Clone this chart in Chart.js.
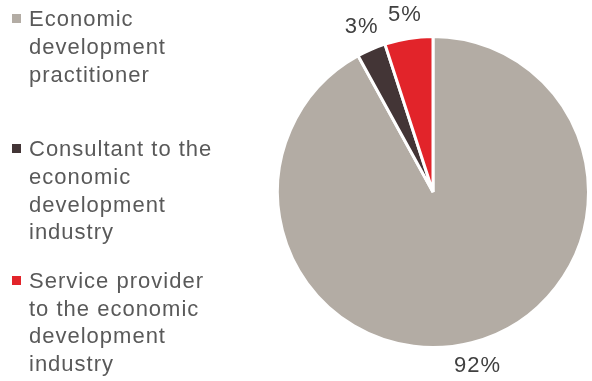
<!DOCTYPE html>
<html>
<head>
<meta charset="utf-8">
<script src="https://cdn.jsdelivr.net/npm/chart.js@4.4.1/dist/chart.umd.min.js"></script>
<style>
  html, body { margin: 0; padding: 0; background: #fff; }
  #wrap { position: relative; width: 592px; height: 381px; overflow: hidden; }
  #chart { position: absolute; left: 0; top: 0; }
  .item { position: absolute; left: 29px; font-family: "Liberation Sans", Arial, sans-serif;
          font-size: 22px; line-height: 27.7px; letter-spacing: 1px; color: #595959; }
  .item .box { position: absolute; left: -17px; top: 8.8px; width: 9px; height: 9px; }
</style>
</head>
<body>
<div id="wrap">
  <canvas id="chart" width="592" height="381"></canvas>
  <div id="legend"></div>
</div>
<script>
// respondent types, one line per legend row
const categories = [
  ["Economic", "development", "practitioner"],
  ["Consultant to the", "economic", "development", "industry"],
  ["Service provider", "to the economic", "development", "industry"]
];
const shares = [92, 3, 5];
const colors = ["#b3aca4", "#433536", "#e2242a"];

// legend rows sit at fixed heights on the left
const legendTops = [5.2, 135.2, 266.8];
const legend = document.getElementById("legend");
categories.forEach((lines, i) => {
  const item = document.createElement("div");
  item.className = "item";
  item.style.top = legendTops[i] + "px";
  const box = document.createElement("span");
  box.className = "box";
  box.style.background = colors[i];
  item.appendChild(box);
  lines.forEach((line, k) => {
    if (k) item.appendChild(document.createElement("br"));
    item.appendChild(document.createTextNode(line));
  });
  legend.appendChild(item);
});

// percent labels just outside each slice
const outsideLabels = {
  id: "outsideLabels",
  afterDatasetsDraw(chart) {
    const ctx = chart.ctx;
    const meta = chart.getDatasetMeta(0);
    ctx.save();
    ctx.font = "22px 'Liberation Sans', Arial, sans-serif";
    ctx.letterSpacing = "1px";
    ctx.fillStyle = "#404040";
    ctx.textAlign = "center";
    ctx.textBaseline = "middle";
    meta.data.forEach((arc, i) => {
      const mid = (arc.startAngle + arc.endAngle) / 2;
      const r = arc.outerRadius + 24;
      ctx.fillText(shares[i] + "%", arc.x + Math.cos(mid) * r, arc.y + Math.sin(mid) * r);
    });
    ctx.restore();
  }
};

new Chart(document.getElementById("chart"), {
  type: "pie",
  data: {
    labels: categories.map(l => l.join(" ")),
    datasets: [{
      data: shares,
      backgroundColor: colors,
      borderColor: "#ffffff",
      borderWidth: 3
    }]
  },
  options: {
    responsive: false,
    animation: false,
    layout: { padding: { left: 276, right: 2, top: 35, bottom: 32 } },
    plugins: {
      legend: { display: false },
      tooltip: { enabled: false }
    }
  },
  plugins: [outsideLabels]
});
</script>
</body>
</html>
